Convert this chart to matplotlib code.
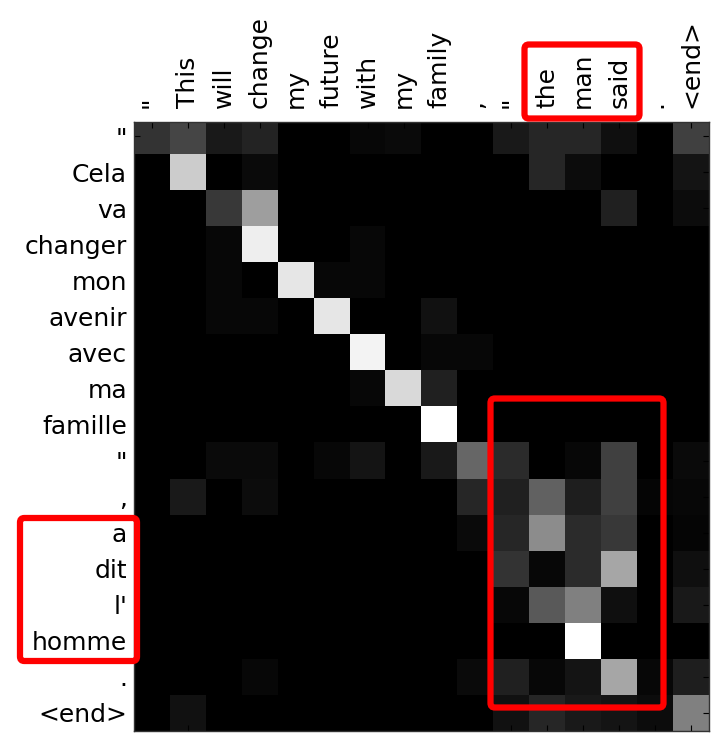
import matplotlib
matplotlib.use('Agg')
import matplotlib.pyplot as plt
from matplotlib.patches import FancyBboxPatch
import numpy as np

# source (English) words on top, target (French) words on the left
src_words = ['"', 'This', 'will', 'change', 'my', 'future', 'with', 'my',
             'family', ',', '"', 'the', 'man', 'said', '.', '<end>']
tgt_words = ['"', 'Cela', 'va', 'changer', 'mon', 'avenir', 'avec', 'ma',
             'famille', '"', ',', 'a', 'dit', "l'", 'homme', '.', '<end>']

# attention weights, one row per target word
attention = [
    [0.20, 0.27, 0.10, 0.14, 0.00, 0.00, 0.03, 0.04, 0.00, 0.00, 0.10, 0.15, 0.15, 0.06, 0.00, 0.25],
    [0.00, 0.80, 0.00, 0.04, 0.00, 0.00, 0.00, 0.00, 0.00, 0.00, 0.00, 0.15, 0.05, 0.00, 0.00, 0.08],
    [0.00, 0.00, 0.22, 0.62, 0.00, 0.00, 0.00, 0.00, 0.00, 0.00, 0.00, 0.00, 0.00, 0.13, 0.00, 0.05],
    [0.00, 0.00, 0.03, 0.93, 0.00, 0.00, 0.03, 0.00, 0.00, 0.00, 0.00, 0.00, 0.00, 0.00, 0.00, 0.00],
    [0.00, 0.00, 0.03, 0.00, 0.90, 0.03, 0.03, 0.00, 0.00, 0.00, 0.00, 0.00, 0.00, 0.00, 0.00, 0.00],
    [0.00, 0.00, 0.03, 0.03, 0.00, 0.90, 0.00, 0.00, 0.07, 0.00, 0.00, 0.00, 0.00, 0.00, 0.00, 0.00],
    [0.00, 0.00, 0.00, 0.00, 0.00, 0.00, 0.95, 0.00, 0.03, 0.03, 0.00, 0.00, 0.00, 0.00, 0.00, 0.00],
    [0.00, 0.00, 0.00, 0.00, 0.00, 0.00, 0.03, 0.85, 0.13, 0.00, 0.00, 0.00, 0.00, 0.00, 0.00, 0.00],
    [0.00, 0.00, 0.00, 0.00, 0.00, 0.00, 0.00, 0.00, 1.00, 0.00, 0.00, 0.00, 0.00, 0.00, 0.00, 0.00],
    [0.00, 0.00, 0.04, 0.04, 0.00, 0.03, 0.08, 0.00, 0.10, 0.40, 0.17, 0.00, 0.03, 0.25, 0.00, 0.04],
    [0.00, 0.10, 0.00, 0.05, 0.00, 0.00, 0.00, 0.00, 0.00, 0.15, 0.13, 0.38, 0.12, 0.25, 0.02, 0.03],
    [0.00, 0.00, 0.00, 0.00, 0.00, 0.00, 0.00, 0.00, 0.00, 0.04, 0.15, 0.55, 0.17, 0.22, 0.00, 0.02],
    [0.00, 0.00, 0.00, 0.00, 0.00, 0.00, 0.00, 0.00, 0.00, 0.00, 0.20, 0.03, 0.17, 0.65, 0.00, 0.06],
    [0.00, 0.00, 0.00, 0.00, 0.00, 0.00, 0.00, 0.00, 0.00, 0.00, 0.03, 0.35, 0.50, 0.06, 0.00, 0.10],
    [0.00, 0.00, 0.00, 0.00, 0.00, 0.00, 0.00, 0.00, 0.00, 0.00, 0.00, 0.00, 1.00, 0.00, 0.00, 0.00],
    [0.00, 0.00, 0.00, 0.03, 0.00, 0.00, 0.00, 0.00, 0.00, 0.04, 0.13, 0.03, 0.08, 0.65, 0.03, 0.12],
    [0.00, 0.07, 0.00, 0.00, 0.00, 0.00, 0.00, 0.00, 0.00, 0.00, 0.07, 0.15, 0.10, 0.08, 0.05, 0.50],
]

W, H = 717, 745
fig = plt.figure(figsize=(W / 100, H / 100), dpi=100)

# heatmap area in pixels: x 134..709, y 122..731
ax = fig.add_axes([134 / W, (H - 731) / H, 575 / W, 609 / H])
ax.imshow(np.array(attention), cmap='gray', vmin=0, vmax=1,
          interpolation='nearest', aspect='auto')
ax.set_xlim(-0.5, len(src_words) - 0.5)
ax.set_ylim(len(tgt_words) - 0.5, -0.39)

ax.set_xticks(range(len(src_words)))
ax.set_xticklabels(src_words, rotation=90, fontsize=18)
ax.set_yticks(range(len(tgt_words)))
ax.set_yticklabels(tgt_words, fontsize=18)
ax.tick_params(axis='both', direction='in', length=4, color='black',
               top=True, right=True, bottom=True, left=True,
               labeltop=True, labelbottom=False)
ax.tick_params(axis='x', pad=10)
ax.tick_params(axis='y', pad=5)
for sp in ax.spines.values():
    sp.set_color('#333333')
    sp.set_linewidth(1)


# red highlight boxes, given in pixel corners (left, top, right, bottom)
def red_box(x0, y0, x1, y1):
    box = FancyBboxPatch((x0 / W, (H - y1) / H), (x1 - x0) / W, (y1 - y0) / H,
                         boxstyle='round,pad=0,rounding_size=0.006',
                         transform=fig.transFigure, fill=False,
                         edgecolor='#ff0000', linewidth=4.5, clip_on=False)
    fig.patches.append(box)


red_box(524.5, 44.5, 639.5, 118.5)
red_box(490.5, 398.5, 663.5, 707.5)
red_box(20, 518, 137, 661)

fig.savefig('out.png', dpi=100)
